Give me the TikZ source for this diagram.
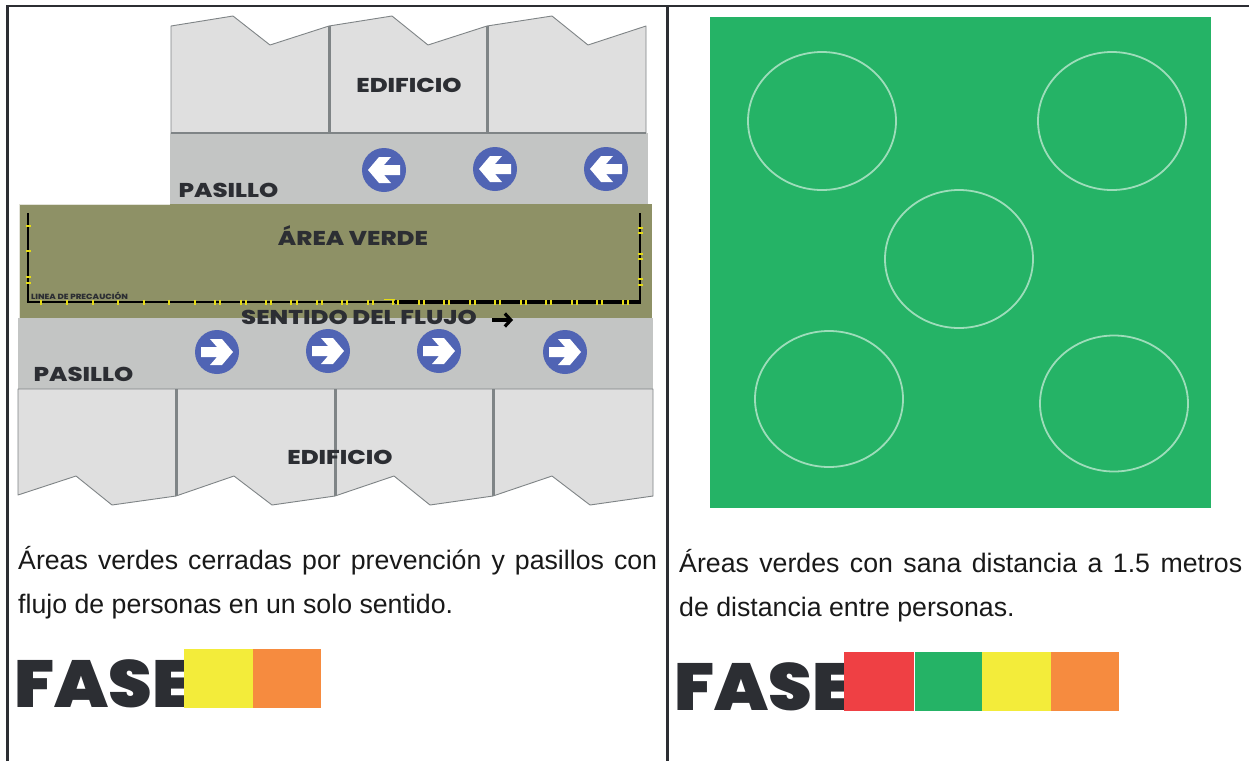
\documentclass[tikz,border=0pt]{standalone}
\usepackage{fontspec}
\setmainfont{Liberation Sans}
\newfontfamily\hd{Poppins}[UprightFont=* ExtraBold,BoldFont=* Black]
\usetikzlibrary{calc,arrows.meta}
\definecolor{bldg}{HTML}{DFDFDF}
\definecolor{bedge}{HTML}{7F8486}
\definecolor{corr}{HTML}{C3C5C4}
\definecolor{lawn}{HTML}{8E9166}
\definecolor{ink}{HTML}{2C2E33}
\definecolor{bluec}{HTML}{5064B4}
\definecolor{grass}{HTML}{25B366}
\definecolor{fred}{HTML}{EF4044}
\definecolor{fyel}{HTML}{F3EC3A}
\definecolor{fora}{HTML}{F68B3F}
\definecolor{tick}{HTML}{E6DC14}
\newcommand{\lbl}[1]{\scalebox{1.22}[1]{#1}}
\tikzset{
  x=1pt,y=-1pt,
  building/.style={fill=bldg,draw=bedge,line width=0.9pt,line join=round},
  divider/.style={draw=bedge,line width=3pt},
  corridor/.style={fill=corr,draw=none},
  frameline/.style={draw=ink,line width=2.4pt},
  flowdisc/.style={circle,fill=bluec,draw=none,minimum size=44pt,inner sep=0pt},
  ring/.style={draw=white!55!grass,line width=1.8pt},
  swatch/.style={draw=none},
  label/.style={font=\hd\fontsize{20}{20}\selectfont,text=ink,inner sep=0pt,anchor=base},
  para/.style={font=\fontsize{26.7}{26.7}\selectfont,text=black!90,inner sep=0pt,anchor=base west},
  fase/.style={font=\hd\bfseries\fontsize{66.5}{66.5}\selectfont,text=ink,inner sep=0pt,anchor=base west},
  ticks/.style={draw=tick,line width=1.1pt},
}
\newcommand{\rightarrowshape}[1]{\fill[white] ($(#1)+(-16,-5)$) -- ($(#1)+(0,-5)$) -- ($(#1)+(-7,-13)$) -- ($(#1)+(5,-13)$) -- ($(#1)+(16,0)$) -- ($(#1)+(5,13)$) -- ($(#1)+(-7,13)$) -- ($(#1)+(0,5)$) -- ($(#1)+(-16,5)$) -- cycle;}
\newcommand{\leftarrowshape}[1]{\fill[white] ($(#1)+(16,-5)$) -- ($(#1)+(0,-5)$) -- ($(#1)+(7,-13)$) -- ($(#1)+(-5,-13)$) -- ($(#1)+(-16,0)$) -- ($(#1)+(-5,13)$) -- ($(#1)+(7,13)$) -- ($(#1)+(0,5)$) -- ($(#1)+(16,5)$) -- cycle;}
\begin{document}
\begin{tikzpicture}
\useasboundingbox (0,0) rectangle (1249,761);
\fill[white] (0,0) rectangle (1249,761);
% frame
\draw[frameline] (7.5,761) -- (7.5,6) -- (1249,6);
\draw[frameline] (667.5,6) -- (667.5,761);
% upper building
\draw[building] (171,133) -- (171,26) -- (233,16) -- (270,45) -- (329,26) -- (392,16) -- (428,45) -- (487,26) -- (552,16) -- (588,45) -- (646,26) -- (646,133) -- cycle;
\draw[divider] (329,26) -- (329,133);
\draw[divider] (487,26) -- (487,133);
\node[label] (edifA) at (409,92) {\lbl{EDIFICIO}};
% upper corridor
\fill[corridor] (170,133) rectangle (648,204);
\draw[bedge,line width=1.2pt] (171,133) -- (646,133);
\node[label] (pasA) at (228.5,197) {\lbl{PASILLO}};
\foreach \n/\x/\y in {a/384/170,b/495/169,c/606/169}{
  \node[flowdisc] (disc\n) at (\x,\y) {};
  \leftarrowshape{disc\n}
}
% lawn
\fill[lawn] (19,204) rectangle (652,318);
\draw[white!75!lawn,line width=0.6pt] (170,204) -- (19,204) -- (19,318);
\node[label] (verde) at (353,245) {\lbl{ÁREA VERDE}};
% caution line
\draw[black,line width=2.8pt] (28,213) -- (28,302);
\draw[black,line width=2.8pt] (640,213) -- (640,303);
\draw[black,line width=2.2pt] (26.6,302) -- (395,302);
\draw[black,line width=3.2pt] (395,302) -- (641.4,302);
\foreach \x in {41,67,93,118,144,169,195,215,241,266,291,317,342,368,393,419,444,470,495,521,546,572,597,623}
  \draw[ticks] (\x,299.5) -- (\x,304.5);
\foreach \x in {220,246,271,297,322,347,373,398,424,449,475,500,526,551,577,602,628}
  \draw[ticks] (\x,299.5) -- (\x,304.5);
\draw[ticks] (384,299.5) -- (395,299.5);
\foreach \y in {226,251,277,283}
  \draw[ticks] (25.5,\y) -- (30.5,\y);
\foreach \y in {228,233,254,259,279,285}
  \draw[ticks] (637.5,\y) -- (642.5,\y);
\node[font=\hd\fontsize{7.5}{7.5}\selectfont,text=ink,inner sep=0pt,anchor=base west] (precaucion) at (31,299) {\scalebox{1.15}[1]{LINEA DE PRECAUCIÓN}};
% lower corridor
\fill[corridor] (18,318) rectangle (653,389);
\node[label] (sentido) at (359,324) {\lbl{SENTIDO DEL FLUJO}};
\node[label] (pasB) at (83.5,381) {\lbl{PASILLO}};
\coordinate (flowA) at (492,320);
\coordinate (flowB) at (513,320);
\draw[black,line width=3.2pt,-{Straight Barb[length=6pt,width=13pt]}] (flowA) -- (flowB);
\foreach \n/\x/\y in {d/217/352,e/328/351,f/439/351,g/565/352}{
  \node[flowdisc] (disc\n) at (\x,\y) {};
  \rightarrowshape{disc\n}
}
% lower building
\draw[building] (18,389) -- (653,389) -- (653,496) -- (590,505) -- (552,476) -- (493,496) -- (430,505) -- (394,476) -- (335,496) -- (272,505) -- (234,476) -- (176,496) -- (112,505) -- (76,476) -- (18,495) -- cycle;
\draw[divider] (176,389) -- (176,496);
\draw[divider] (335,389) -- (335,496);
\draw[divider] (493,389) -- (493,496);
\node[label] (edifB) at (340,464) {\lbl{EDIFICIO}};
% right panel
\fill[grass] (710,17) rectangle (1211,508);
\draw[ring] (822,121) ellipse [x radius=74,y radius=69];
\draw[ring] (1112,121) ellipse [x radius=74,y radius=69];
\draw[ring] (959,259) ellipse [x radius=74,y radius=69];
\draw[ring] (829,399) ellipse [x radius=74,y radius=68];
\draw[ring] (1114,403.5) ellipse [x radius=74,y radius=68];
% paragraphs
\node[para] (tA) at (18,569.5) {\makebox[639pt][s]{Áreas verdes cerradas por prevención y pasillos con}};
\node[para] (tB) at (18,613.5) {flujo de personas en un solo sentido.};
\node[para] (tC) at (679,572.5) {\makebox[563pt][s]{Áreas verdes con sana distancia a 1.5 metros}};
\node[para] (tD) at (679,616.5) {de distancia entre personas.};
% fase bars
\node[fase] (faseA) at (14.5,707) {\scalebox{1.05}[1]{FASE}};
\fill[swatch,fyel] (184,649) rectangle (252.5,708);
\fill[swatch,fora] (252.5,649) rectangle (321,708);
\node[fase] (faseB) at (674.5,710) {\scalebox{1.05}[1]{FASE}};
\fill[swatch,fred] (844,652) rectangle (914,711);
\fill[swatch,grass] (914.5,652) rectangle (982,711);
\fill[swatch,fyel] (982,652) rectangle (1050.5,711);
\fill[swatch,fora] (1050.5,652) rectangle (1119,711);
\end{tikzpicture}
\end{document}
